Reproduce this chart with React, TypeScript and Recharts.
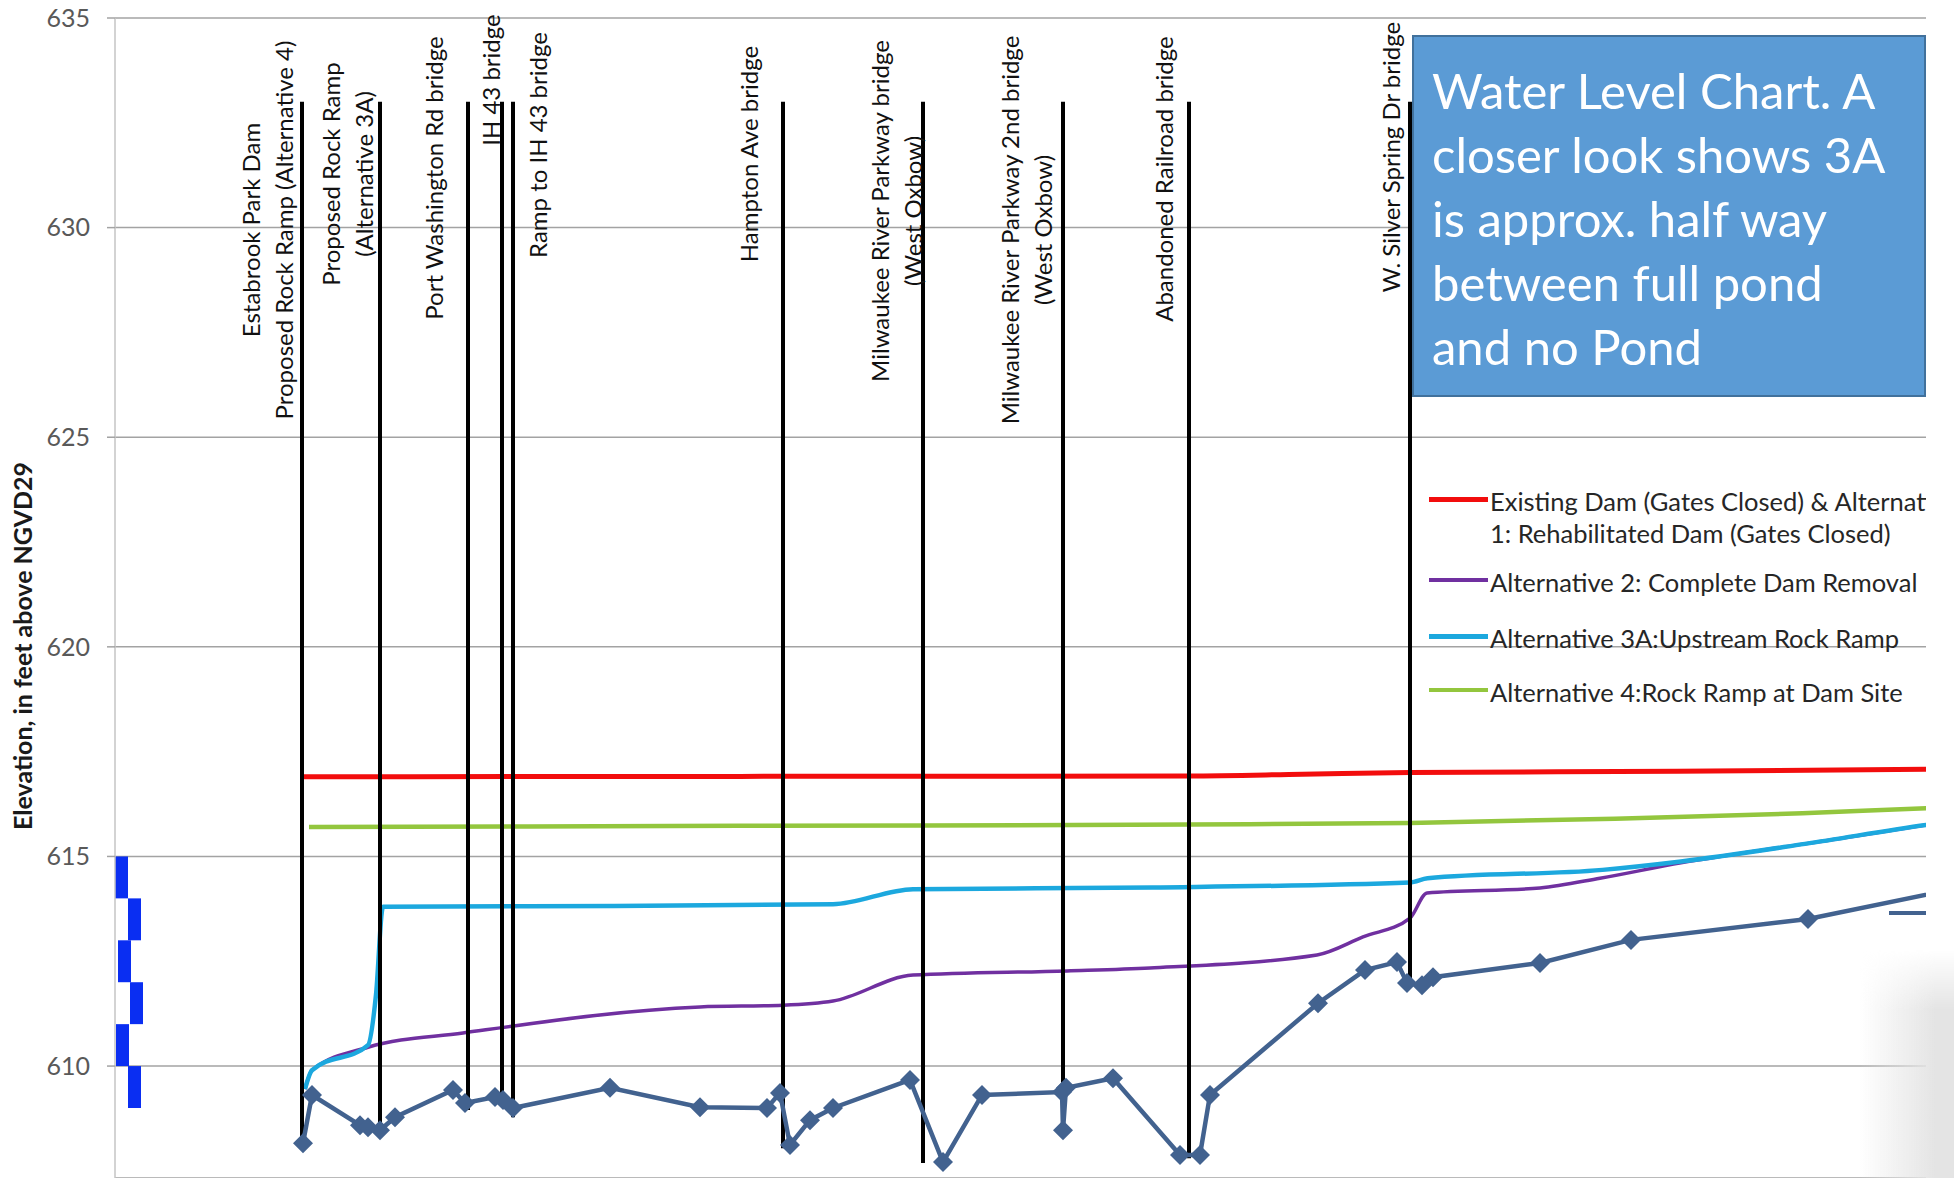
import React from "react";
import {
  LineChart,
  Line,
  XAxis,
  YAxis,
  CartesianGrid,
  ReferenceLine,
  ReferenceArea,
  Legend,
} from "recharts";

const FONT = "Lato, 'Open Sans', Arial, sans-serif";

// axes: river station in ft, elevation in ft above NGVD29
const stationMax = 14488;
const elevMin = 607.33;
const elevMax = 635;
const elevTicks = [610, 615, 620, 625, 630, 635];

// bridges and structures along the reach
const bridgeNames = [
  ["Estabrook Park Dam", "Proposed Rock Ramp (Alternative 4)"],
  ["Proposed Rock Ramp", "(Alternative 3A)"],
  ["Port Washington Rd bridge"],
  ["IH 43 bridge"],
  ["Ramp to IH 43 bridge"],
  ["Hampton Ave bridge"],
  ["Milwaukee River Parkway bridge", "(West Oxbow)"],
  ["Milwaukee River Parkway 2nd bridge", "(West Oxbow)"],
  ["Abandoned Railroad bridge"],
  ["W. Silver Spring Dr bridge"],
];
const bridgeStations = [1496, 2120, 2824, 3096, 3184, 5344, 6464, 7584, 8592, 10360];
const bridgeTop = 633;
const bridgeBottoms = [608.2, 608.4, 608.95, 609.12, 608.78, 608.04, 607.69, 608.47, 607.8, 611.98];

// water surface profiles
const existingStations = [1496, 5000, 8592, 9500, 10360, 12500, 14488, 15000];
const existingElev = [616.9, 616.91, 616.92, 616.96, 617.0, 617.03, 617.08, 617.1];

const alt2Stations = [1520, 1576, 2024, 2784, 4680, 5344, 5744, 6384, 7616, 8280, 9616, 9984, 10360, 10496, 11400, 11880, 12528, 13520, 14488, 15000];
const alt2Elev = [609.45, 609.9, 610.45, 610.79, 611.41, 611.45, 611.55, 612.17, 612.27, 612.34, 612.65, 613.08, 613.53, 614.13, 614.25, 614.48, 614.85, 615.3, 615.75, 616.0];

const alt3aStations = [1520, 1576, 2024, 2088, 2144, 4000, 5744, 6384, 8300, 10360, 10500, 11900, 12528, 13520, 14488, 15000];
const alt3aElev = [609.45, 609.9, 610.5, 611.7, 613.8, 613.82, 613.86, 614.22, 614.26, 614.38, 614.48, 614.68, 614.88, 615.3, 615.75, 615.95];

const alt4Stations = [1552, 5000, 8592, 10360, 12000, 13500, 14488, 15000];
const alt4Elev = [615.7, 615.73, 615.76, 615.8, 615.9, 616.03, 616.15, 616.2];

// channel bottom
const groundStations = [1504, 1576, 1960, 2024, 2120, 2240, 2704, 2800, 3040, 3104, 3184, 3960, 4680, 5216, 5320, 5400, 5560, 5744, 6360, 6624, 6936, 7576, 7584, 7608, 7984, 8520, 8680, 8760, 9624, 10000, 10256, 10336, 10456, 10544, 11400, 12128, 13544, 15000];
const groundElev = [608.16, 609.31, 608.59, 608.54, 608.47, 608.78, 609.43, 609.12, 609.26, 609.19, 609.0, 609.48, 609.02, 609.0, 609.36, 608.12, 608.71, 609.0, 609.67, 607.71, 609.31, 609.38, 608.47, 609.48, 609.71, 607.88, 607.88, 609.31, 611.5, 612.29, 612.48, 611.98, 611.93, 612.12, 612.46, 613.01, 613.51, 614.4];

// blue 1-ft staircase at the left of the plot
const stepLow = [614, 613, 612, 611, 610, 609];
const stepStart = [0, 104, 24, 120, 8, 104];
const stepEnd = [104, 208, 128, 224, 112, 208];

const legendText = [
  ["Existing Dam (Gates Closed) & Alternative", "1: Rehabilitated Dam (Gates Closed)"],
  ["Alternative 2: Complete Dam Removal"],
  ["Alternative 3A:Upstream Rock Ramp"],
  ["Alternative 4:Rock Ramp at Dam Site"],
];

const noteLines = [
  "Water Level Chart. A",
  "closer look shows 3A",
  "is approx. half way",
  "between full pond",
  "and no Pond",
];

const COLORS = {
  existing: "#F20D0D",
  alt2: "#7030A0",
  alt3a: "#1CA8DE",
  alt4: "#93C63E",
  ground: "#42628F",
};

const toPoints = (st: number[], el: number[]) =>
  st.map((s, i) => ({ station: s, elev: el[i] }));

// label placement: offset of the line nearest the bridge, and label centre height
const labelDx = [-19, -17, -35, -12, 24, -35, -11, -21, -26, -20];
const labelCy = [230, 174, 178, 80, 145, 154, 211, 230, 179, 157];
const LINE_GAP = 33;

const bridgeLabel = (i: number) => (props: any) => {
  const vb = props.viewBox || {};
  const x0 = vb.x ?? 0;
  const lines = bridgeNames[i];
  const cy = labelCy[i];
  return (
    <g>
      {lines.map((t, j) => {
        const x = x0 + labelDx[i] - (lines.length - 1 - j) * LINE_GAP;
        return (
          <text
            key={j}
            x={x}
            y={cy}
            transform={`rotate(-90 ${x} ${cy})`}
            textAnchor="middle"
            dominantBaseline="central"
            fontFamily={FONT}
            fontSize={24}
            fill="#111"
          >
            {t}
          </text>
        );
      })}
    </g>
  );
};

const Diamond = (props: any) => {
  const { cx, cy, index, payload } = props;
  if (cx == null || cy == null || (payload && payload.station > stationMax)) {
    return <g key={`d${index}`} />;
  }
  const r = 10;
  return (
    <polygon
      key={`d${index}`}
      points={`${cx},${cy - r} ${cx + r},${cy} ${cx},${cy + r} ${cx - r},${cy}`}
      fill={COLORS.ground}
    />
  );
};

const legendKeys = [
  { color: COLORS.existing, width: 5 },
  { color: COLORS.alt2, width: 3.5 },
  { color: COLORS.alt3a, width: 5 },
  { color: COLORS.alt4, width: 3.5 },
];
const legendRowCenters = [22, 103, 159, 213];

const renderLegend = () => (
  <div
    style={{
      position: "relative",
      width: 497,
      height: 240,
      overflow: "hidden",
      fontFamily: FONT,
      fontSize: 25.5,
      color: "#262626",
      whiteSpace: "nowrap",
    }}
  >
    {legendText.map((lines, i) => (
      <React.Fragment key={i}>
        <div
          style={{
            position: "absolute",
            left: 0,
            width: 59,
            top: legendRowCenters[i] - 3 - legendKeys[i].width / 2,
            height: legendKeys[i].width,
            background: legendKeys[i].color,
          }}
        />
        {lines.map((t, j) => (
          <div
            key={j}
            style={{
              position: "absolute",
              left: 61,
              top: legendRowCenters[i] - 17 + j * 32,
              lineHeight: "32px",
            }}
          >
            {t}
          </div>
        ))}
      </React.Fragment>
    ))}
  </div>
);

const yTitle = (props: any) => {
  const vb = props.viewBox || {};
  const x = (vb.x ?? 0) + 22;
  const y = 646;
  return (
    <text
      x={x}
      y={y}
      transform={`rotate(-90 ${x} ${y})`}
      textAnchor="middle"
      dominantBaseline="central"
      fontFamily={FONT}
      fontSize={25}
      fontWeight="bold"
      fill="#1a1a1a"
    >
      Elevation, in feet above NGVD29
    </text>
  );
};

export default function App() {
  return (
    <div
      style={{
        position: "fixed",
        left: 0,
        top: 0,
        width: 1954,
        height: 1178,
        overflow: "hidden",
        background: "#fff",
      }}
    >
      <LineChart
        width={1954}
        height={1178}
        margin={{ top: 18, right: 28, bottom: 0, left: 0 }}
      >
        <CartesianGrid horizontal vertical={false} stroke="#A3A3A3" strokeWidth={1.5} />
        <XAxis
          dataKey="station"
          type="number"
          domain={[0, stationMax]}
          allowDataOverflow
          hide
        />
        <YAxis
          dataKey="elev"
          type="number"
          width={115}
          domain={[elevMin, elevMax]}
          ticks={elevTicks}
          allowDataOverflow
          axisLine={{ stroke: "#C4C4C4", strokeWidth: 1.5 }}
          tickLine={{ stroke: "#A3A3A3", strokeWidth: 1.5 }}
          tickSize={8}
          tickMargin={17}
          tick={{ fill: "#595959", fontSize: 25, fontFamily: FONT }}
          label={yTitle}
        />
        {stepLow.map((lo, i) => (
          <ReferenceArea
            key={`s${i}`}
            x1={stepStart[i]}
            x2={stepEnd[i]}
            y1={lo}
            y2={lo + 1}
            fill="#0A2EF2"
            fillOpacity={1}
            stroke="none"
            ifOverflow="visible"
          />
        ))}
        <Line
          data={toPoints(existingStations, existingElev)}
          dataKey="elev"
          name={legendText[0].join(" ")}
          type="monotone"
          stroke={COLORS.existing}
          strokeWidth={5}
          dot={false}
          isAnimationActive={false}
        />
        <Line
          data={toPoints(alt2Stations, alt2Elev)}
          dataKey="elev"
          name={legendText[1][0]}
          type="monotone"
          stroke={COLORS.alt2}
          strokeWidth={3.5}
          dot={false}
          isAnimationActive={false}
        />
        <Line
          data={toPoints(alt3aStations, alt3aElev)}
          dataKey="elev"
          name={legendText[2][0]}
          type="monotone"
          stroke={COLORS.alt3a}
          strokeWidth={4.5}
          dot={false}
          isAnimationActive={false}
        />
        <Line
          data={toPoints(alt4Stations, alt4Elev)}
          dataKey="elev"
          name={legendText[3][0]}
          type="monotone"
          stroke={COLORS.alt4}
          strokeWidth={4.5}
          dot={false}
          isAnimationActive={false}
        />
        {bridgeStations.map((s, i) => (
          <ReferenceLine
            key={`b${i}`}
            segment={[
              { x: s, y: bridgeTop },
              { x: s, y: bridgeBottoms[i] },
            ]}
            stroke="#000"
            strokeWidth={4}
            label={bridgeLabel(i)}
          />
        ))}
        <ReferenceLine
          segment={[
            { x: 14192, y: 613.65 },
            { x: stationMax, y: 613.65 },
          ]}
          stroke={COLORS.ground}
          strokeWidth={4}
        />
        <Line
          data={toPoints(groundStations, groundElev)}
          dataKey="elev"
          name="Channel bottom"
          type="linear"
          stroke={COLORS.ground}
          strokeWidth={4.5}
          dot={Diamond}
          isAnimationActive={false}
          legendType="none"
        />
        <Legend
          layout="vertical"
          align="center"
          verticalAlign="middle"
          content={renderLegend}
          wrapperStyle={{ left: 1429, top: 480, width: 497 }}
        />
      </LineChart>
      <div
        style={{
          position: "absolute",
          left: 1412,
          top: 35,
          width: 514,
          height: 362,
          boxSizing: "border-box",
          background: "#5B9BD5",
          border: "2px solid #41719C",
          color: "#fff",
          fontFamily: FONT,
          fontSize: 49,
          lineHeight: "64px",
          paddingTop: 21,
          paddingLeft: 18,
          whiteSpace: "nowrap",
          overflow: "hidden",
        }}
      >
        {noteLines.map((t, i) => (
          <div key={i}>{t}</div>
        ))}
      </div>
      <div
        style={{
          position: "absolute",
          left: 1860,
          top: 950,
          width: 94,
          height: 228,
          background:
            "linear-gradient(to right, rgba(236,236,236,0), rgba(228,228,228,1) 80%)",
          WebkitMaskImage: "linear-gradient(to bottom, transparent, black 60px)",
          maskImage: "linear-gradient(to bottom, transparent, black 60px)",
        }}
      />
    </div>
  );
}
